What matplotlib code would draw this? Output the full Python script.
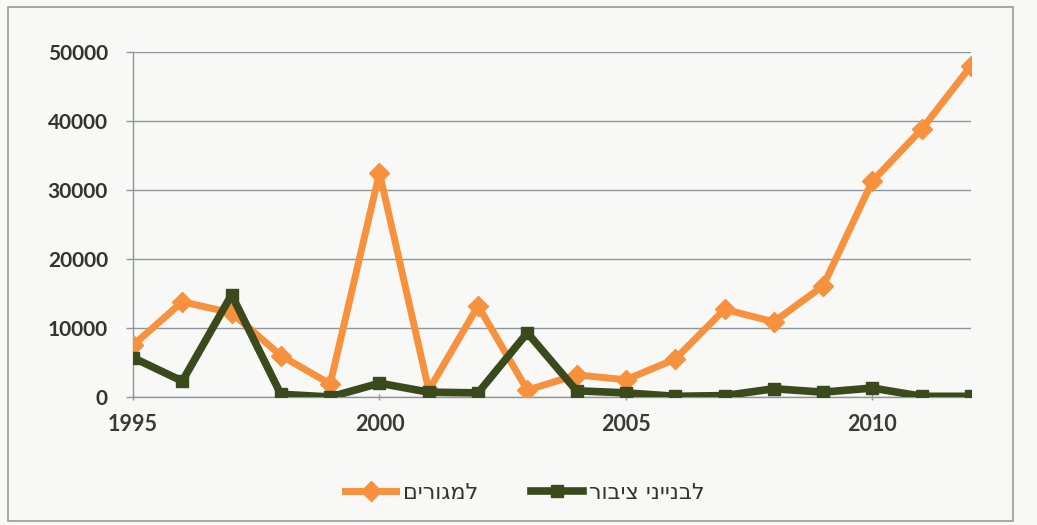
import matplotlib
matplotlib.use("Agg")
import matplotlib.pyplot as plt
from matplotlib.patches import Rectangle

years = [1995, 1996, 1997, 1998, 1999, 2000, 2001, 2002, 2003,
         2004, 2005, 2006, 2007, 2008, 2009, 2010, 2011, 2012]
residential = [7500, 13800, 12200, 6000, 1900, 32500, 1000, 13200, 1000,
               3200, 2500, 5500, 12700, 10900, 16100, 31300, 38800, 48000]
public_buildings = [5700, 2300, 14800, 400, 0, 2000, 700, 600, 9300,
                    900, 600, 100, 200, 1200, 700, 1300, 100, 100]
series_labels = ["למגורים", "לבנייני ציבור"]
x_ticks = [1995, 2000, 2005, 2010]
y_ticks = [0, 10000, 20000, 30000, 40000, 50000]

W, H = 1037, 525
fig = plt.figure(figsize=(W / 100, H / 100), dpi=100)
fig.patch.set_facecolor("#f8f8f6")

# outer frame around the chart
fig.add_artist(Rectangle((8 / W, 4 / H), 1005 / W, 514 / H, transform=fig.transFigure,
                         fill=False, edgecolor="#9a9a9a", linewidth=1.2))

ax = fig.add_axes([133 / W, (H - 397) / H, (971 - 133) / W, (397 - 52) / H])
ax.set_facecolor("none")

orange = "#f7913d"
green = "#3a4a1c"

def rtl(s):
    # reverse Hebrew so it reads correctly in left-to-right rendering
    return s[::-1]

ax.plot(years, residential, color=orange, lw=5, marker="D", ms=10,
        mec=orange, mfc=orange, label=rtl(series_labels[0]), zorder=3)
ax.plot(years, public_buildings, color=green, lw=5.5, marker="s", ms=9,
        mec=green, mfc=green, label=rtl(series_labels[1]), zorder=4)

ax.set_xlim(1995, 2012)
ax.set_ylim(0, 50000)
ax.set_xticks(x_ticks)
ax.set_yticks(y_ticks)
ax.grid(axis="y", color="#8e979c", lw=1.0)
ax.set_axisbelow(True)

for s in ["top", "right"]:
    ax.spines[s].set_visible(False)
for s in ["left", "bottom"]:
    ax.spines[s].set_color("#8e979c")
    ax.spines[s].set_linewidth(1.0)

ax.tick_params(axis="y", length=5, width=1, color="#8e979c", pad=13)
ax.tick_params(axis="x", length=5, width=1, color="#8e979c", direction="inout", pad=10)

for lab in ax.get_yticklabels():
    lab.set_family(["Lato", "DejaVu Sans"])
    lab.set_fontsize(15)
    lab.set_fontweight("bold")
    lab.set_color("#333333")
for lab in ax.get_xticklabels():
    lab.set_family(["Lato", "DejaVu Sans"])
    lab.set_fontsize(15.5)
    lab.set_fontweight("bold")
    lab.set_color("#3a3a3a")

leg = fig.legend(loc="center", bbox_to_anchor=(525 / W, (H - 493) / H), ncol=2,
                 frameon=False, handlelength=2.3, columnspacing=2.4, handletextpad=0.3,
                 prop={"family": ["DejaVu Sans"], "size": 16})
for t in leg.get_texts():
    t.set_color("#333333")

fig.savefig("out.png", dpi=100, facecolor=fig.get_facecolor())
